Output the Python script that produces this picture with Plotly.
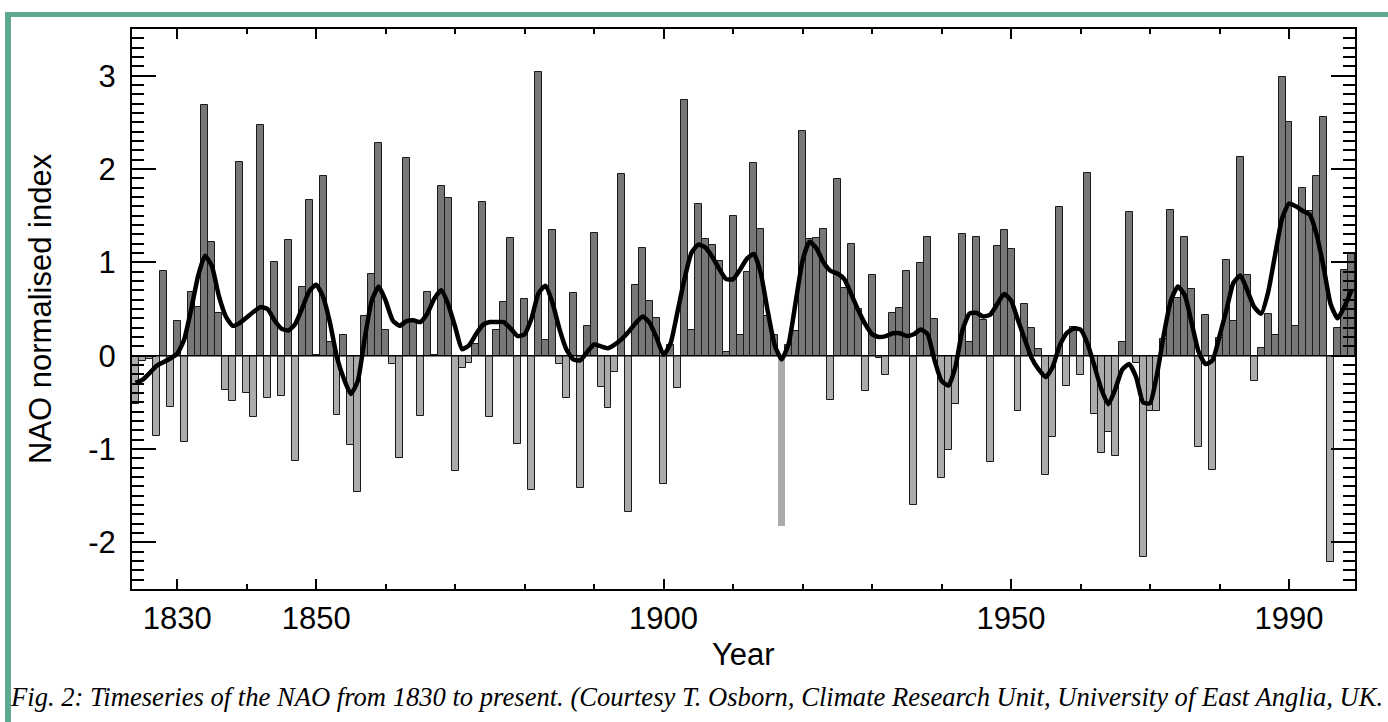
import plotly.graph_objects as go

# ---------------- data ----------------
first_year = 1824
nao_index = [
    -0.52, -0.06, -0.04, -0.86, 0.91, -0.55,                      # 1824-1829
    0.37, -0.92, 0.68, 0.52, 2.69, 1.22, 0.46, -0.37, -0.49, 2.07,  # 1830s
    -0.40, -0.66, 2.47, -0.45, 1.00, -0.43, 1.24, -1.13, 0.74, 1.67,  # 1840s
    0.01, 1.92, 0.15, -0.64, 0.22, -0.96, -1.46, 0.42, 0.87, 2.28,  # 1850s
    0.28, -0.09, -1.10, 2.12, 0.38, -0.65, 0.68, 0.01, 1.82, 1.69,  # 1860s
    -1.24, -0.13, -0.08, 0.12, 1.65, -0.66, 0.28, 0.57, 1.26, -0.95,  # 1870s
    0.61, -1.44, 3.04, 0.17, 1.35, -0.09, -0.45, 0.67, -1.42, 0.32,  # 1880s
    1.31, -0.34, -0.56, -0.17, 1.95, -1.67, 0.76, 1.15, 0.59, 0.40,  # 1890s
    -1.37, 0.11, -0.35, 2.74, 0.28, 1.63, 1.25, 1.19, 1.01, 0.04,  # 1900s
    1.50, 0.22, 0.90, 2.06, 1.36, 0.43, 0.22, -1.82, 0.11, 0.26,  # 1910s
    2.41, 1.25, 1.26, 1.36, -0.48, 1.89, 0.72, 1.20, 0.50, -0.38,  # 1920s
    0.86, -0.03, -0.21, 0.46, 0.51, 0.91, -1.60, 0.99, 1.27, 0.39,  # 1930s
    -1.31, -1.01, -0.52, 1.30, 0.15, 1.27, 0.38, -1.14, 1.18, 1.35,  # 1940s
    1.14, -0.59, 0.55, 0.30, 0.07, -1.28, -0.87, 1.59, -0.32, 0.31,  # 1950s
    -0.21, 1.96, -0.63, -1.04, -0.82, -1.07, 0.15, 1.54, -0.08, -2.16,  # 1960s
    -0.59, -0.59, 0.18, 1.56, 0.62, 1.27, 0.71, -0.98, 0.44, -1.23,  # 1970s
    0.19, 1.02, 0.37, 2.13, 0.86, -0.27, 0.08, 0.45, 0.22, 2.99,  # 1980s
    2.50, 0.32, 1.80, 1.55, 1.92, 2.56, -2.21, 0.30, 0.92, 1.10,  # 1990s
]
nao_smooth = [
    -0.29, -0.26, -0.19, -0.11, -0.07, -0.03,
    0.02, 0.17, 0.49, 0.85, 1.07, 0.96, 0.64, 0.42, 0.32, 0.35,
    0.41, 0.47, 0.52, 0.50, 0.38, 0.29, 0.27, 0.34, 0.51, 0.69,
    0.76, 0.63, 0.35, -0.02, -0.25, -0.41, -0.27, 0.19, 0.59, 0.74,
    0.59, 0.38, 0.32, 0.37, 0.38, 0.36, 0.45, 0.61, 0.70, 0.55,
    0.31, 0.07, 0.11, 0.23, 0.33, 0.36, 0.36, 0.36, 0.29, 0.21,
    0.23, 0.40, 0.67, 0.75, 0.57, 0.29, 0.07, -0.04, -0.05, 0.04,
    0.12, 0.10, 0.08, 0.12, 0.18, 0.26, 0.35, 0.42, 0.35, 0.19,
    0.01, 0.13, 0.47, 0.82, 1.10, 1.19, 1.16, 1.06, 0.93, 0.82,
    0.82, 0.92, 1.04, 1.09, 0.88, 0.47, 0.11, -0.04, 0.13, 0.57,
    1.02, 1.22, 1.15, 1.00, 0.91, 0.88, 0.82, 0.66, 0.49, 0.34,
    0.23, 0.20, 0.21, 0.24, 0.24, 0.21, 0.23, 0.28, 0.23, -0.05,
    -0.27, -0.32, -0.12, 0.27, 0.45, 0.46, 0.42, 0.44, 0.55, 0.66,
    0.59, 0.38, 0.17, -0.03, -0.15, -0.23, -0.12, 0.11, 0.24, 0.29,
    0.28, 0.13, -0.11, -0.36, -0.52, -0.36, -0.15, -0.09, -0.23, -0.50,
    -0.51, -0.20, 0.23, 0.59, 0.74, 0.65, 0.35, 0.04, -0.09, -0.05,
    0.21, 0.49, 0.78, 0.86, 0.70, 0.52, 0.45, 0.68, 1.08, 1.47,
    1.63, 1.60, 1.55, 1.51, 1.29, 0.94, 0.55, 0.40, 0.53, 0.70,
]
years = list(range(first_year, first_year + len(nao_index)))
unoutlined_years = [1917]

x_tick_vals = [1830, 1850, 1900, 1950, 1990]
x_tick_text = ["1830", "1850", "1900", "1950", "1990"]
y_tick_vals = [-2, -1, 0, 1, 2, 3]
y_tick_text = ["-2", "-1", "0", "1", "2", "3"]

caption = ("Fig. 2: Timeseries of the NAO from 1830 to present. "
           "(Courtesy T. Osborn, Climate Research Unit, University of East Anglia, UK.")

# ---------------- styling ----------------
W, H = 1388, 722
L, R, T, B = 132, 33, 29, 133
PW, PH = W - L - R, H - T - B
POS_COL, NEG_COL = "#777777", "#ababab"
FRAME_COL = "#5fa993"
SANS = "Liberation Sans, Arial, sans-serif"

def px_x(px):
    return (px - L) / PW

def px_y(py):
    return (H - B - py) / PH

bar_colors = [POS_COL if v >= 0 else NEG_COL for v in nao_index]
bar_line_w = [0 if y in unoutlined_years else 1 for y in years]

fig = go.Figure()
fig.add_trace(go.Bar(
    x=years, y=nao_index, width=1,
    marker=dict(color=bar_colors, line=dict(color="#1a1a1a", width=bar_line_w)),
    showlegend=False, hoverinfo="x+y",
))
fig.add_trace(go.Scatter(
    x=years, y=nao_smooth, mode="lines",
    line=dict(color="black", width=4.5, shape="spline", smoothing=0.5),
    showlegend=False,
))

axis_common = dict(
    showline=True, linecolor="black", linewidth=2, mirror="ticks",
    ticks="inside", tickcolor="black", showgrid=False, zeroline=False,
    tickfont=dict(family=SANS, size=31, color="black"),
)
fig.update_xaxes(
    range=[1823.5, 1999.5], tickmode="array", tickvals=x_tick_vals, ticktext=x_tick_text,
    ticklen=10, tickwidth=1.5, ticklabelstandoff=1,
    minor=dict(tickmode="linear", tick0=1830, dtick=10, ticklen=5, tickwidth=1.5,
               ticks="inside", tickcolor="black", showgrid=False),
    **axis_common,
)
fig.update_yaxes(
    range=[-2.5, 3.5], tickmode="array", tickvals=y_tick_vals, ticktext=y_tick_text,
    ticklen=24, tickwidth=2, ticklabelstandoff=8,
    minor=dict(tickmode="linear", tick0=0, dtick=0.1, ticklen=12, tickwidth=1.5,
               ticks="inside", tickcolor="black", showgrid=False),
    **axis_common,
)

shapes = [
    dict(type="line", xref="paper", yref="y", x0=0, x1=1, y0=0, y1=0,
         line=dict(color="black", width=1.5), layer="above"),
    dict(type="rect", xref="paper", yref="paper", x0=px_x(5), x1=px_x(W + 5),
         y0=px_y(17), y1=px_y(12), fillcolor=FRAME_COL, line=dict(width=0), layer="above"),
    dict(type="rect", xref="paper", yref="paper", x0=px_x(5), x1=px_x(11),
         y0=px_y(H + 5), y1=px_y(12), fillcolor=FRAME_COL, line=dict(width=0), layer="above"),
]

annotations = [
    dict(text="NAO normalised index", xref="paper", yref="paper", x=px_x(40), y=0.5,
         textangle=-90, showarrow=False, xanchor="center", yanchor="middle",
         font=dict(family=SANS, size=31, color="black")),
    dict(text="Year", xref="paper", yref="paper", x=0.5, y=px_y(654),
         showarrow=False, xanchor="center", yanchor="middle",
         font=dict(family=SANS, size=31, color="black")),
    dict(text="<i>" + caption + "</i>", xref="paper", yref="paper", x=px_x(8), y=px_y(697),
         showarrow=False, xanchor="left", yanchor="middle",
         font=dict(family="Liberation Serif, Times New Roman, serif", size=26.6, color="black")),
]

fig.update_layout(
    width=W, height=H, margin=dict(l=L, r=R, t=T, b=B, autoexpand=False),
    paper_bgcolor="white", plot_bgcolor="white", bargap=0,
    shapes=shapes, annotations=annotations,
)

fig.write_html("out.html", config={"displayModeBar": False})
